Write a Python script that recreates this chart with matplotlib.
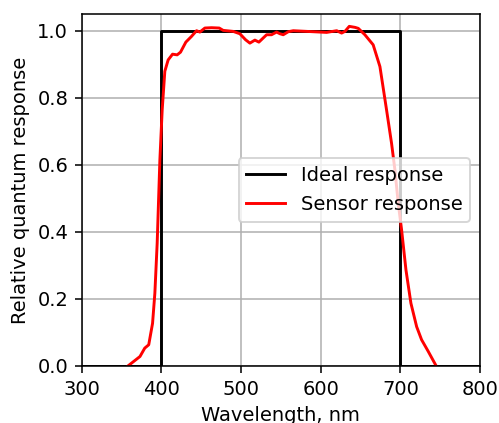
import matplotlib
matplotlib.use("Agg")
import matplotlib.pyplot as plt

ideal_x = [300, 400, 400, 700, 700, 800]
ideal_y = [0, 0, 1, 1, 0, 0]

sensor_x = [358, 373, 379, 384, 388.8, 391.7, 394.6, 398, 400.9, 404.2, 408.4, 413.9,
            419.7, 423.9, 430.6, 437.7, 444, 448.2, 454.5, 462.9, 472.5, 477.5, 490,
            498.4, 505.6, 511, 517.3, 522.3, 532, 538.2, 544.5, 548.7, 552.9, 559.2,
            565.5, 590.6, 607.4, 620, 626.2, 630.4, 635.8, 643, 647.1, 655.4, 665.8,
            674.3, 682.6, 688.9, 693.1, 697.3, 701.5, 707, 713.2, 720.4, 726.6, 735, 744.2]
sensor_y = [0.0, 0.028, 0.053, 0.063, 0.127, 0.217, 0.366, 0.615, 0.764, 0.879, 0.913, 0.93,
            0.928, 0.936, 0.966, 0.983, 1.0, 0.996, 1.008, 1.009, 1.008, 1.001, 0.998,
            0.991, 0.973, 0.963, 0.972, 0.966, 0.988, 0.988, 0.996, 0.991, 0.988, 0.997,
            1.0, 0.997, 0.995, 1.0, 0.993, 0.998, 1.013, 1.01, 1.007, 0.988, 0.958,
            0.893, 0.764, 0.664, 0.585, 0.485, 0.406, 0.286, 0.187, 0.117, 0.078, 0.043, 0.003]

DPI = 140
fig = plt.figure(figsize=(499 / DPI, 423 / DPI), dpi=DPI)
ax = fig.add_axes([0.164, 0.135, 0.798, 0.832])
ax.plot(ideal_x, ideal_y, color="black", lw=1.5, label="Ideal response")
ax.plot(sensor_x, sensor_y, color="red", lw=1.5, label="Sensor response")
ax.set_xlim(300, 800)
ax.set_ylim(0, 1.05)
ax.set_xticks([300, 400, 500, 600, 700, 800])
ax.set_yticks([0.0, 0.2, 0.4, 0.6, 0.8, 1.0])
ax.grid(True)
ax.set_xlabel("Wavelength, nm", fontsize=10)
ax.set_ylabel("Relative quantum response", fontsize=10)
ax.legend(loc="center right", fontsize=10)
fig.savefig("out.png", dpi=DPI)
